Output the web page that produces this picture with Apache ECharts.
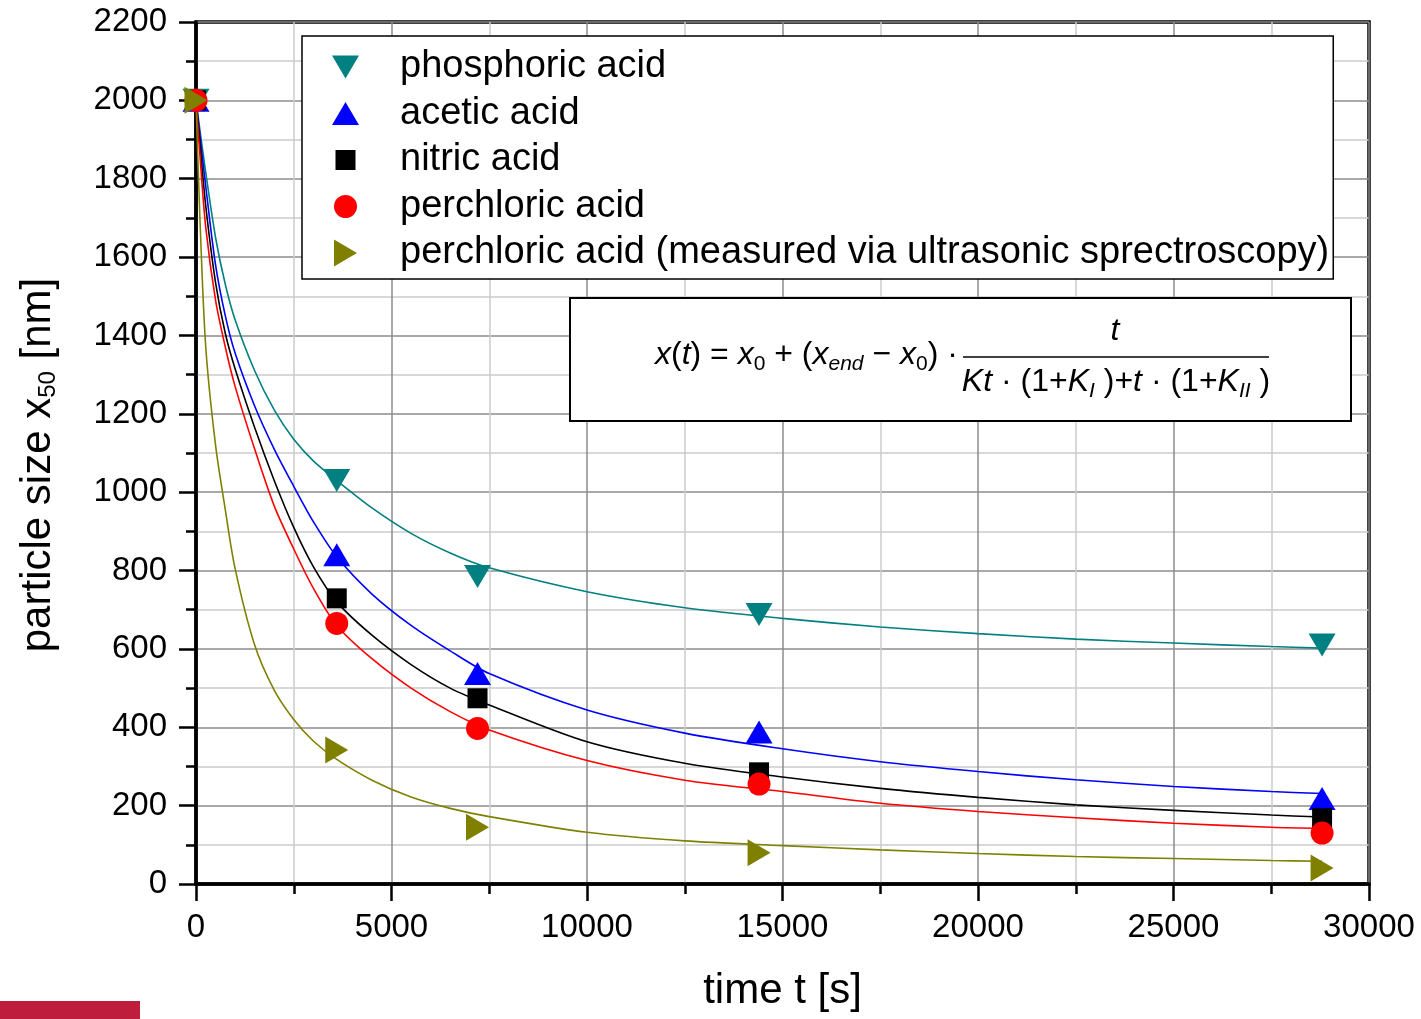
<!DOCTYPE html>
<html>
<head>
<meta charset="utf-8">
<title>particle size vs time</title>
<script src="https://cdn.jsdelivr.net/npm/echarts@6/dist/echarts.min.js"></script>
<style>
  html, body { margin: 0; padding: 0; background: #fff; }
  #main { width: 1421px; height: 1019px; }
</style>
</head>
<body>
<div id="main"></div>
<script>
// measured points (time in s, x50 in nm)
const measT = [0, 3600, 7200, 14400, 28800];
const phosphoric = [2000, 1030, 785, 688, 610];
const acetic = [2000, 840, 537, 388, 218];
const nitric = [2000, 729, 474, 285, 168];
const perchloric = [2000, 665, 397, 255, 130];
const ultrasonic = [2000, 342, 145, 80, 41];

// fitted curves at these times
const fitT = [0, 100, 250, 500, 750, 1000, 1500, 2000, 2500, 3000, 3600, 4500, 5500, 6500,
  7500, 10000, 12500, 15000, 17500, 20000, 22500, 25000, 27500, 28800];
const phosphoricFit = [2000, 1925, 1815, 1650, 1530, 1440, 1310, 1210, 1135, 1080, 1030, 960, 895, 845,
  807, 746, 705, 678, 656, 639, 625, 615, 606, 602];
const aceticFit = [2000, 1910, 1780, 1580, 1450, 1355, 1220, 1110, 1015, 925, 835, 740, 660, 595,
  537, 444, 385, 345, 312, 287, 266, 249, 236, 231];
const nitricFit = [2000, 1890, 1730, 1535, 1405, 1315, 1165, 1030, 910, 810, 720, 635, 560, 500,
  457, 363, 308, 273, 244, 221, 202, 188, 176, 171];
const perchloricFit = [2000, 1860, 1675, 1490, 1370, 1270, 1110, 965, 855, 755, 660, 575, 500, 440,
  393, 315, 265, 236, 206, 185, 169, 155, 145, 142];
const ultrasonicFit = [2000, 1700, 1370, 1120, 955, 805, 610, 495, 420, 365, 318, 265, 222, 193,
  172, 132, 110, 98, 87, 78, 70, 65, 60, 58];

const names = [
  'phosphoric acid',
  'acetic acid',
  'nitric acid',
  'perchloric acid',
  'perchloric acid (measured via ultrasonic sprectroscopy)'
];
const colors = ['#008080', '#0000ff', '#000000', '#ff0000', '#808000'];
const font = 'Liberation Sans, Arial, sans-serif';

const pairs = (xs, ys) => xs.map((x, i) => [x, ys[i]]);

const fits = [phosphoricFit, aceticFit, nitricFit, perchloricFit, ultrasonicFit];
const meas = [phosphoric, acetic, nitric, perchloric, ultrasonic];
const symbols = [
  { symbol: 'triangle', symbolSize: [27, 23], symbolRotate: 180 },
  { symbol: 'triangle', symbolSize: [27, 23], symbolRotate: 0 },
  { symbol: 'rect', symbolSize: [20, 20], symbolRotate: 0 },
  { symbol: 'circle', symbolSize: 23, symbolRotate: 0 },
  { symbol: 'triangle', symbolSize: [27, 23], symbolRotate: -90 }
];
// legend icons as paths in a 27x27 box (empty corner points keep the box)
const box = 'M0,0L0,0ZM27,27L27,27Z';
const legendIcons = [
  'path://M0,2L27,2L13.5,25Z' + box,
  'path://M13.5,2L27,25L0,25Z' + box,
  'path://M3.5,3.5L23.5,3.5L23.5,23.5L3.5,23.5Z' + box,
  'path://M2,13.5A11.5,11.5,0,1,1,25,13.5A11.5,11.5,0,1,1,2,13.5Z' + box,
  'path://M2,0L25,13.5L2,27Z' + box
];

let series = []
fits.forEach((f, i) => {
  series.push({
    name: names[i] + ' fit',
    type: 'line',
    data: pairs(fitT, f),
    showSymbol: false,
    smooth: 0.3,
    lineStyle: { color: colors[i], width: 1.6 },
    z: 2
  })
})
meas.forEach((m, i) => {
  series.push({
    name: names[i],
    type: 'scatter',
    data: pairs(measT, m),
    symbol: symbols[i].symbol,
    symbolSize: symbols[i].symbolSize,
    symbolRotate: symbols[i].symbolRotate,
    itemStyle: { color: colors[i], opacity: 1 },
    clip: false,
    z: 3
  })
})

const chart = echarts.init(document.getElementById('main'));

const ff = 'Liberation Sans, Arial, sans-serif';
const fMain = { fontSize: 32, fontStyle: 'normal', fontFamily: ff, lineHeight: 36, verticalAlign: 'top', fill: '#000' };
const fIt = Object.assign({}, fMain, { fontStyle: 'italic' });
const fSub = { fontSize: 21, fontStyle: 'italic', fontFamily: ff, lineHeight: 21, verticalAlign: 'bottom', padding: [17, 0, 0, 0], fill: '#000' };
const fSubN = Object.assign({}, fSub, { fontStyle: 'normal' });

const plain = v => String(v);

chart.setOption({
  animation: false,
  color: colors,
  textStyle: { fontFamily: font },
  grid: {
    left: 196, right: 52, top: 22, bottom: 135,
    show: true, borderColor: '#000', borderWidth: 3.5, backgroundColor: 'transparent'
  },
  legend: {
    data: names.map((n, i) => ({ name: n, icon: legendIcons[i] })),
    orient: 'vertical',
    left: 302,
    top: 36,
    itemWidth: 27,
    itemHeight: 27,
    itemGap: 6.5,
    padding: [11, 4, 6, 30],
    backgroundColor: '#fff',
    borderColor: '#000',
    borderWidth: 1.5,
    selectedMode: false,
    textStyle: { fontSize: 38, color: '#000', fontFamily: font, lineHeight: 40, padding: [0, 0, 0, 36] }
  },
  xAxis: {
    type: 'value',
    min: 0, max: 30000, interval: 5000,
    name: 'time t [s]',
    nameLocation: 'middle',
    nameGap: 86,
    nameTextStyle: { fontSize: 42, color: '#000', fontFamily: font },
    axisLine: { lineStyle: { color: '#000', width: 3.5 } },
    axisTick: { length: 17, lineStyle: { color: '#000', width: 2.5 } },
    minorTick: { show: true, splitNumber: 2, length: 10, lineStyle: { color: '#000', width: 2.5 } },
    axisLabel: { fontSize: 33, color: '#000', margin: 27, fontFamily: font, formatter: plain },
    splitLine: { show: true, lineStyle: { color: '#8c8c8c', width: 1.5 } },
    minorSplitLine: { show: true, lineStyle: { color: '#cccccc', width: 1.5 } }
  },
  yAxis: {
    type: 'value',
    min: 0, max: 2200, interval: 200,
    name: 'particle size x{sub|50} [nm]',
    nameLocation: 'middle',
    nameGap: 180,
    nameTextStyle: {
      fontSize: 42, color: '#000', fontFamily: font, lineHeight: 44, verticalAlign: 'top',
      padding: [0, 24, 0, 0],
      rich: {
        sub: { fontSize: 24, lineHeight: 24, verticalAlign: 'bottom', padding: [24, 0, 0, 0], fontFamily: font, color: '#000' }
      }
    },
    axisLine: { show: true, lineStyle: { color: '#000', width: 3.5 } },
    axisTick: { show: true, length: 17, lineStyle: { color: '#000', width: 2.5 } },
    minorTick: { show: true, splitNumber: 2, length: 10, lineStyle: { color: '#000', width: 2.5 } },
    axisLabel: { fontSize: 33, color: '#000', margin: 29, fontFamily: font, formatter: plain },
    splitLine: { show: true, lineStyle: { color: '#8c8c8c', width: 1.5 } },
    minorSplitLine: { show: true, lineStyle: { color: '#cccccc', width: 1.5 } }
  },
  graphic: [
    {
      type: 'rect', z: 10,
      shape: { x: 570, y: 298, width: 781, height: 123 },
      style: { fill: '#fff', stroke: '#000', lineWidth: 2 }
    },
    {
      type: 'text', z: 11, x: 655, y: 357,
      style: {
        text: '{i|x}{n|(}{i|t}{n|) = }{i|x}{s|0}{n| + (}{i|x}{e|end}{n| − }{i|x}{s|0}{n|) ·}',
        verticalAlign: 'middle', align: 'left',
        rich: { i: fIt, n: fMain, s: fSubN, e: fSub }
      }
    },
    {
      type: 'text', z: 11, x: 1115, y: 333,
      style: { text: '{i|t}', align: 'center', verticalAlign: 'middle', rich: { i: fIt } }
    },
    {
      type: 'line', z: 11,
      shape: { x1: 963, y1: 357, x2: 1269, y2: 357 },
      style: { stroke: '#000', lineWidth: 1.5 }
    },
    {
      type: 'text', z: 11, x: 1116, y: 384,
      style: {
        text: '{i|Kt}{n| · (1+}{i|K}{e|I}{n| )+}{i|t}{n| · (1+}{i|K}{e|II}{n| )}',
        align: 'center', verticalAlign: 'middle',
        rich: { i: fIt, n: fMain, e: fSub }
      }
    },
    {
      type: 'rect', z: 10,
      shape: { x: 0, y: 1001, width: 140, height: 18 },
      style: { fill: '#be1e3c' }
    }
  ],
  series: series
});
</script>
</body>
</html>
